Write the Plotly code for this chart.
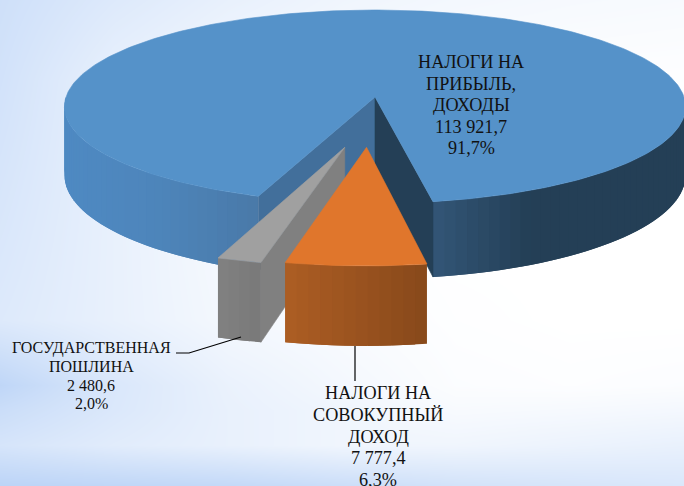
import numpy as np
import plotly.graph_objects as go

# values from the chart
categories = [["НАЛОГИ НА", "ПРИБЫЛЬ,", "ДОХОДЫ"], ["НАЛОГИ НА", "СОВОКУПНЫЙ", "ДОХОД"], ["ГОСУДАРСТВЕННАЯ", "ПОШЛИНА"]]
values = [113921.7, 7777.4, 2480.6]

# look of the slices
top_colors = ["#5592c9", "#e0762c", "#a0a0a0"]
wall_x = [[60, 150, 258, 434, 530, 690], [285, 428], [218, 262]]
wall_colors = [["#4f8ac3", "#4e86bc", "#4a7aa9", "#335677", "#243f56", "#243f56"],
               ["#ad5e24", "#88491b"], ["#828282", "#797979"]]
cut_left = "#426f9b"
cut_right = "#243f56"
gray_cut = "#808080"
explode_x = [0, -0.026, -0.093]
explode_y = [0, 0.5, 0.5]

# labels: centre x, first line y, line step, font size
label_x = [471, 378, 91]
label_y = [62, 393, 348]
label_step = [21.6, 21.8, 18.6]
label_size = [18.2, 18.2, 16]

# background tint, 0 = white, 1 = full blue
bg_x = [0, 114, 228, 342, 456, 570, 684]
bg_y = [0, 80, 160, 240, 320, 385, 410, 445, 486]
bg_z = [[.65, .45, .30, .20, .15, .12, .10],
        [.60, .30, .15, .10, .05, .03, .02],
        [.55, .30, .10, .00, .00, .00, .00],
        [.50, .30, .12, .03, .00, .00, .00],
        [.45, .30, .15, .08, .02, .00, .00],
        [.85, .50, .28, .15, .05, .03, .05],
        [.70, .48, .30, .20, .10, .12, .15],
        [.55, .40, .30, .20, .20, .25, .30],
        [.90, .85, .80, .70, .60, .55, .50]]

# projection of the disc
CX, CY = 375, 97
A, B, D, K = 309, 95.7, 68, 0.1
START = 200


def project(theta, r, ex, ey, low=False):
    t = np.radians(theta)
    u = r * np.sin(t) + ex
    v = -r * np.cos(t) + ey
    s = 1 / (1 - K * v)
    return CX + A * u * s, CY + B * v * s + (D * s if low else 0)


def hex_rgb(c):
    return [int(c[i:i + 2], 16) for i in (1, 3, 5)]


def shade(x, xs, cols):
    rgb = [np.interp(x, xs, [hex_rgb(c)[i] for c in cols]) for i in range(3)]
    return "rgb(%d,%d,%d)" % tuple(rgb)


def add_poly(fig, xs, ys, color, width=0.6):
    fig.add_trace(go.Scatter(x=list(xs), y=list(ys), mode="lines", fill="toself", fillcolor=color,
                             line=dict(color=color, width=width), hoverinfo="skip", showlegend=False))


def add_wall(fig, a1, a2, ex, ey, xs, cols):
    # outer wall as thin strips, each one runs under the next so no seams show
    a1, a2 = max(a1, 90), min(a2, 270)
    if a2 <= a1:
        return
    steps = np.linspace(a1, a2, int((a2 - a1) / 2) + 2)
    for n, (p, q) in enumerate(zip(steps[:-1], steps[1:])):
        q2 = steps[min(n + 2, len(steps) - 1)]
        arc = np.array([p, q, q2])
        xt, yt = project(arc, 1, ex, ey)
        xb, yb = project(arc[::-1], 1, ex, ey, True)
        add_poly(fig, [*xt, *xb, xt[0]], [*yt, *yb, yt[0]], shade(xt[:2].mean(), xs, cols), 0)


def add_top(fig, a1, a2, ex, ey, color):
    arc = np.linspace(a1, a2, int(a2 - a1) + 2)
    x0, y0 = project(0, 0, ex, ey)
    xa, ya = project(arc, 1, ex, ey)
    add_poly(fig, [x0, *xa, x0], [y0, *ya, y0], color)


def add_cut(fig, theta, ex, ey, color):
    x0, y0 = project(0, 0, ex, ey)
    x1, y1 = project(theta, 1, ex, ey)
    x2, y2 = project(theta, 1, ex, ey, True)
    x3, y3 = project(0, 0, ex, ey, True)
    add_poly(fig, [x0, x1, x2, x3, x0], [y0, y1, y2, y3, y0], color)


fig = go.Figure()
fig.add_trace(go.Heatmap(x=bg_x, y=bg_y, z=bg_z, zmin=0, zmax=1, zsmooth="best", showscale=False, hoverinfo="skip",
                         colorscale=[[0, "#ffffff"], [1, "#b4cff6"]]))

spans = 360 * np.array(values) / sum(values)
edges = START + np.concatenate([[0], np.cumsum(spans)])

# big slice wraps past the top, its visible wall comes in two pieces
big_a, big_b = edges[0], edges[1]
add_wall(fig, big_a, 270, 0, 0, wall_x[0], wall_colors[0])
add_wall(fig, 90, big_b - 360, 0, 0, wall_x[0], wall_colors[0])
add_cut(fig, big_a, 0, 0, cut_left)
add_cut(fig, big_b - 360, 0, 0, cut_right)
add_top(fig, big_a, big_b, 0, 0, top_colors[0])

# gray slice goes behind the orange one
a1, a2 = edges[2] - 360, edges[3] - 360
add_cut(fig, a1, explode_x[2], explode_y[2], gray_cut)
add_wall(fig, a1, a2, explode_x[2], explode_y[2], wall_x[2], wall_colors[2])
add_top(fig, a1, a2, explode_x[2], explode_y[2], top_colors[2])

a1, a2 = edges[1] - 360, edges[2] - 360
add_wall(fig, a1, a2, explode_x[1], explode_y[1], wall_x[1], wall_colors[1])
add_top(fig, a1, a2, explode_x[1], explode_y[1], top_colors[1])

# leader lines
fig.add_trace(go.Scatter(x=[176, 189, 241], y=[353, 353, 337], mode="lines", line=dict(color="black", width=1.2),
                         hoverinfo="skip", showlegend=False))
fig.add_trace(go.Scatter(x=[355, 355], y=[346, 381], mode="lines", line=dict(color="black", width=1.2),
                         hoverinfo="skip", showlegend=False))

total = sum(values)
for i, name in enumerate(categories):
    val = f"{values[i]:,.1f}".replace(",", " ").replace(".", ",")
    pct = f"{100 * values[i] / total:.1f}%".replace(".", ",")
    for j, line in enumerate(name + [val, pct]):
        fig.add_annotation(x=label_x[i], y=label_y[i] + j * label_step[i], text=line, showarrow=False,
                           xanchor="center", yanchor="middle",
                           font=dict(family="Liberation Serif", size=label_size[i], color="#111111"))

fig.update_xaxes(range=[0, 684], visible=False, fixedrange=True)
fig.update_yaxes(range=[486, 0], visible=False, fixedrange=True)
fig.update_layout(width=684, height=486, margin=dict(l=0, r=0, t=0, b=0), paper_bgcolor="white",
                  plot_bgcolor="white", showlegend=False)

fig.write_html("out.html", config={"displayModeBar": False},
               post_script="document.body.style.margin='0';document.body.style.overflow='hidden';")
